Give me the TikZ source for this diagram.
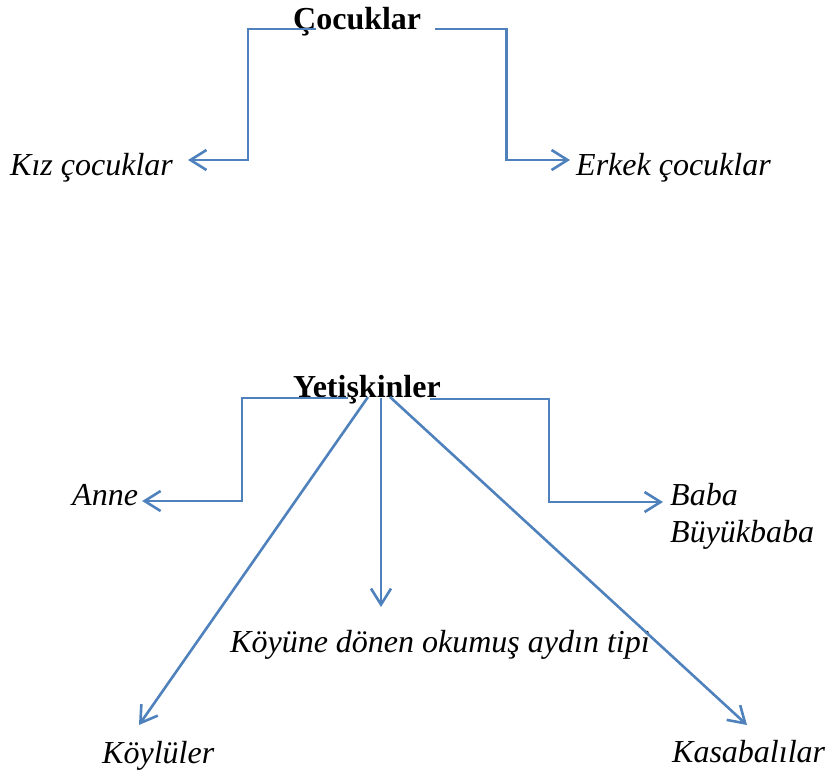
\documentclass[tikz,border=0pt]{standalone}
\usepackage{fontspec}
\setmainfont{Liberation Serif}
\usepackage{tikz}
\usetikzlibrary{arrows.meta}
\definecolor{msBlue}{HTML}{4F81BD}

\begin{document}
\begin{tikzpicture}[
    x=1pt, y=-1pt,
    root/.style={inner sep=0pt, anchor=base west, font=\fontsize{32}{37}\selectfont\bfseries},
    leaf/.style={inner sep=0pt, anchor=base west, font=\fontsize{32}{37}\selectfont\itshape},
    arrow/.style={-{Straight Barb[length=16pt,width=20pt]}, line width=2.6pt, msBlue}
]
\useasboundingbox (0,0) rectangle (825,774);

% Children
\node[root] (cocuk) at (293,29) {Çocuklar};
\node[leaf] (kiz) at (10,175) {Kız çocuklar};
\node[leaf] (erkek) at (576,175) {Erkek çocuklar};

\draw[arrow] ([xshift=23pt]cocuk.base west) -- ++(-68,0) |- ([xshift=15pt,yshift=15pt]kiz.base east);
\draw[arrow] ([xshift=14pt]cocuk.base east) -- ++(71,0) |- ([xshift=-6pt,yshift=15pt]erkek.base west);

% Adults
\node[root] (yetiskin) at (293,397) {Yetişkinler};
\node[leaf] (anne) at (72,505) {Anne};
\node[leaf] (baba) at (670,505) {Baba};
\node[leaf] (buyukbaba) at (670,542) {Büyükbaba};
\node[leaf] (aydin) at (230,652) {Köyüne dönen okumuş aydın tipi};
\node[leaf] (koylu) at (102,763) {Köylüler};
\node[leaf] (kasaba) at (672,762) {Kasabalılar};

\draw[arrow] ([xshift=55pt,yshift=-1pt]yetiskin.base west) -- ++(-106,0) |- ([xshift=4pt,yshift=4pt]anne.base east);
\draw[arrow] ([xshift=-11pt,yshift=-2pt]yetiskin.base east) -- ++(119,0) |- ([xshift=-7pt,yshift=3pt]baba.base west);
\draw[arrow] ([xshift=88pt,yshift=-1pt]yetiskin.base west) -- ([xshift=151pt,yshift=45pt]aydin.base west);
\draw[arrow] ([xshift=75pt]yetiskin.base west) -- ([xshift=37pt,yshift=38pt]koylu.base west);
\draw[arrow] ([xshift=97pt]yetiskin.base west) -- ([xshift=75pt,yshift=37pt]kasaba.base west);

\end{tikzpicture}
\end{document}
